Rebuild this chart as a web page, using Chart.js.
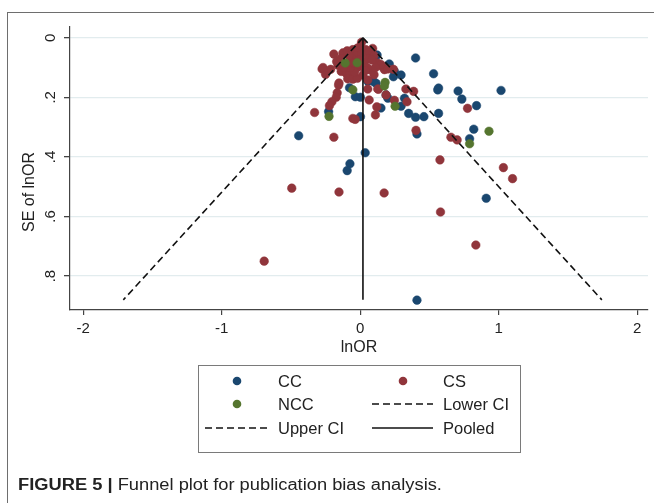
<!DOCTYPE html>
<html>
<head>
<meta charset="utf-8">
<script src="https://cdn.jsdelivr.net/npm/chart.js@4.4.1/dist/chart.umd.min.js"></script>
<style>
  html, body { margin: 0; padding: 0; background: #fff; }
  #wrap { position: relative; width: 654px; height: 503px; overflow: hidden;
          font-family: "Liberation Sans", Arial, sans-serif; color: #222; }
  #frame { position: absolute; left: 7px; top: 12px; width: 700px; height: 600px;
           border-left: 1.5px solid #6e6e6e; border-top: 1.5px solid #6e6e6e; }
  #plot { position: absolute; left: 0; top: 0; }
  #legendBox { position: absolute; left: 198px; top: 365px; width: 321px; height: 86px;
               border: 1px solid #7a7a7a; }
  #swatches { position: absolute; left: 0; top: 0; }
  .lg { position: absolute; font-size: 16.5px; line-height: 20px; white-space: nowrap; }
  #caption { position: absolute; left: 18px; top: 475px; font-size: 16px; line-height: 20px;
             white-space: nowrap; transform-origin: 0 0; color: #222; }
</style>
</head>
<body>
<div id="wrap">
  <div id="frame"></div>
  <canvas id="plot" width="654" height="503"></canvas>
  <div id="legendBox"></div>
  <svg id="swatches" width="654" height="503"></svg>
  <div id="caption"><b>FIGURE 5 |</b> Funnel plot for publication bias analysis.</div>
</div>
<script>
// study estimates: [lnOR, SE of lnOR]
const ccData = [
  [0.122, 0.058], [0.40, 0.068], [0.21, 0.088], [0.247, 0.113], [0.24, 0.131],
  [0.295, 0.125], [0.53, 0.121], [0.56, 0.175], [0.566, 0.169], [0.707, 0.179],
  [0.734, 0.206], [0.84, 0.228], [1.017, 0.177], [0.32, 0.203], [0.295, 0.230],
  [0.35, 0.254], [0.40, 0.267], [0.46, 0.265], [0.566, 0.254], [0.41, 0.323],
  [0.82, 0.307], [0.79, 0.339], [0.91, 0.539], [0.41, 0.881], [0.036, 0.386],
  [-0.074, 0.423], [-0.094, 0.446], [-0.444, 0.329], [-0.228, 0.248], [-0.077, 0.168],
  [-0.035, 0.198], [0.002, 0.200], [0.002, 0.265], [0.187, 0.192], [0.20, 0.203],
  [0.15, 0.236], [0.098, 0.148], [0.115, 0.153], [0.055, 0.146]
];
const csData = [
  [-0.494, 0.505], [-0.153, 0.518], [0.173, 0.521], [0.576, 0.410], [0.58, 0.585],
  [0.835, 0.696], [-0.693, 0.750], [0.70, 0.343], [0.655, 0.334], [1.034, 0.436],
  [1.10, 0.473], [0.403, 0.311], [0.775, 0.237], [0.33, 0.172], [0.386, 0.180],
  [0.338, 0.215], [0.247, 0.210], [0.187, 0.192], [0.132, 0.173], [-0.19, 0.334],
  [-0.329, 0.251], [-0.053, 0.271], [-0.036, 0.274], [0.11, 0.259], [0.12, 0.232],
  [0.065, 0.209], [0.055, 0.172], [0.127, 0.172], [0.055, 0.142], [-0.156, 0.159],
  [-0.153, 0.152], [-0.166, 0.185], [-0.173, 0.200], [-0.204, 0.215], [-0.222, 0.228],
  [0.01, 0.015], [0.0, 0.03], [-0.19, 0.055], [-0.125, 0.051], [-0.094, 0.044],
  [-0.053, 0.040], [-0.02, 0.035], [0.04, 0.04], [0.09, 0.036], [0.06, 0.05],
  [-0.275, 0.105], [-0.25, 0.123], [-0.213, 0.106], [-0.268, 0.100], [-0.16, 0.092],
  [-0.137, 0.113], [-0.1, 0.12], [-0.077, 0.125], [-0.09, 0.138], [-0.053, 0.139],
  [-0.02, 0.136], [0.02, 0.125], [0.065, 0.107], [0.127, 0.085], [0.16, 0.097],
  [0.175, 0.107], [0.24, 0.106], [0.15, 0.09], [0.2, 0.105], [0.10, 0.124],
  [-0.03, 0.06], [0.01, 0.055], [-0.06, 0.07], [0.03, 0.08], [0.06, 0.07],
  [-0.1, 0.09], [-0.02, 0.10], [0.05, 0.10], [-0.14, 0.07], [0.1, 0.06],
  [-0.04, 0.115], [0.035, 0.11], [-0.07, 0.10], [0.085, 0.075], [-0.01, 0.075],
  [-0.12, 0.10], [-0.05, 0.085], [0.0, 0.09], [-0.08, 0.06], [-0.17, 0.08], [0.11, 0.10]
];
const nccData = [
  [-0.108, 0.085], [-0.022, 0.084], [0.18, 0.150], [0.175, 0.162], [-0.053, 0.175],
  [0.252, 0.230], [-0.225, 0.264], [0.93, 0.314], [0.79, 0.356]
];

// pooled estimate and pseudo 95% CI limits at the largest SE
const pooledLnOR = 0.02;
const maxSE = 0.88;
const lowerCIEnd = -1.71;
const upperCIEnd = 1.745;

const xTicks = [-2, -1, 0, 1, 2];
const yTicks = [0, 0.2, 0.4, 0.6, 0.8];

const NAVY = '#1a476f', MAROON = '#90353b', GREEN = '#55752f', INK = '#222';
const FONT = '"Liberation Sans", Arial, sans-serif';

const toXY = arr => arr.map(([x, y]) => ({ x, y }));
const seLabel = v => v === 0 ? '0' : v.toFixed(1).replace(/^0/, '');

function pointSet(label, data, color, order) {
  return { label, data: toXY(data), backgroundColor: color, borderColor: color,
           borderWidth: 0.5, pointRadius: 4.3, pointHoverRadius: 4.3, order };
}
function lineSet(label, data, dash) {
  return { label, data, showLine: true, borderColor: '#111', borderWidth: 1.6,
           borderDash: dash, pointRadius: 0, fill: false, order: 0 };
}

// vertical y tick labels and y title, Stata style
const stataAxis = {
  id: 'stataAxis',
  afterDraw(chart) {
    const { ctx } = chart;
    const ys = chart.scales.y;
    ctx.save();
    ctx.fillStyle = INK;
    ctx.textAlign = 'center';
    ctx.textBaseline = 'middle';
    ctx.font = '15px ' + FONT;
    ys.ticks.forEach(t => {
      ctx.save();
      ctx.translate(51, ys.getPixelForValue(t.value));
      ctx.rotate(-Math.PI / 2);
      ctx.fillText(seLabel(t.value), 0, 0);
      ctx.restore();
    });
    ctx.font = '16px ' + FONT;
    ctx.translate(30, 192);
    ctx.rotate(-Math.PI / 2);
    ctx.fillText('SE of lnOR', 0, 0);
    ctx.restore();
  }
};

new Chart(document.getElementById('plot'), {
  type: 'scatter',
  data: {
    datasets: [
      pointSet('CC', ccData, NAVY, 3),
      pointSet('CS', csData, MAROON, 2),
      pointSet('NCC', nccData, GREEN, 1),
      lineSet('Lower CI', [{ x: pooledLnOR, y: 0 }, { x: lowerCIEnd, y: maxSE }], [7, 4]),
      lineSet('Upper CI', [{ x: pooledLnOR, y: 0 }, { x: upperCIEnd, y: maxSE }], [7, 4]),
      lineSet('Pooled', [{ x: pooledLnOR, y: 0 }, { x: pooledLnOR, y: maxSE }], [])
    ]
  },
  options: {
    responsive: false,
    animation: false,
    devicePixelRatio: 1,
    layout: { padding: { top: 27, right: 6, bottom: 143, left: 0 } },
    plugins: { legend: { display: false }, tooltip: { enabled: false } },
    scales: {
      x: {
        type: 'linear', min: -2.095, max: 2.078,
        afterBuildTicks: s => { s.ticks = xTicks.map(v => ({ value: v })); },
        afterFit: s => { s.height = 50; },
        grid: { drawOnChartArea: false, tickLength: 5, tickColor: '#444', lineWidth: 1.2 },
        border: { color: '#444', width: 1.2 },
        ticks: { color: INK, font: { family: FONT, size: 15 }, padding: 5, maxRotation: 0,
                 callback: v => String(v) },
        title: { display: true, text: 'lnOR', color: INK, font: { family: FONT, size: 16 },
                 padding: { top: 0, bottom: 3 } }
      },
      y: {
        type: 'linear', reverse: true, min: -0.036, max: 0.914,
        afterBuildTicks: s => { s.ticks = yTicks.map(v => ({ value: v })); },
        afterFit: s => { s.width = 70; },
        grid: { color: '#e2ecee', lineWidth: 1.3, tickLength: 6, tickColor: '#444' },
        border: { color: '#444', width: 1.2 },
        ticks: { color: 'rgba(0,0,0,0)', font: { family: FONT, size: 15 } }
      }
    }
  },
  plugins: [stataAxis]
});

// legend (Stata two-column box)
const legendItems = [
  { label: 'CC', kind: 'dot', color: NAVY, x: 237, tx: 278, y: 381 },
  { label: 'CS', kind: 'dot', color: MAROON, x: 403, tx: 443, y: 381 },
  { label: 'NCC', kind: 'dot', color: GREEN, x: 237, tx: 278, y: 404 },
  { label: 'Lower CI', kind: 'dash', x: 372, x2: 433, tx: 443, y: 404 },
  { label: 'Upper CI', kind: 'dash', x: 205, x2: 268, tx: 278, y: 428 },
  { label: 'Pooled', kind: 'solid', x: 372, x2: 433, tx: 443, y: 428 }
];
const svg = document.getElementById('swatches');
const wrap = document.getElementById('wrap');
const NS = 'http://www.w3.org/2000/svg';
legendItems.forEach(it => {
  let el;
  if (it.kind === 'dot') {
    el = document.createElementNS(NS, 'circle');
    el.setAttribute('cx', it.x); el.setAttribute('cy', it.y); el.setAttribute('r', 4.3);
    el.setAttribute('fill', it.color);
  } else {
    el = document.createElementNS(NS, 'line');
    el.setAttribute('x1', it.x); el.setAttribute('x2', it.x2);
    el.setAttribute('y1', it.y); el.setAttribute('y2', it.y);
    el.setAttribute('stroke', '#111'); el.setAttribute('stroke-width', 1.6);
    if (it.kind === 'dash') el.setAttribute('stroke-dasharray', '7 4');
  }
  svg.appendChild(el);
  const t = document.createElement('div');
  t.className = 'lg';
  t.textContent = it.label;
  t.style.left = it.tx + 'px';
  t.style.top = (it.y - 10) + 'px';
  wrap.appendChild(t);
});

// caption is set in a condensed face in the original; squeeze to the same width
const cap = document.getElementById('caption');
cap.style.transform = 'scaleX(' + (424 / cap.offsetWidth).toFixed(3) + ')';
</script>
</body>
</html>
